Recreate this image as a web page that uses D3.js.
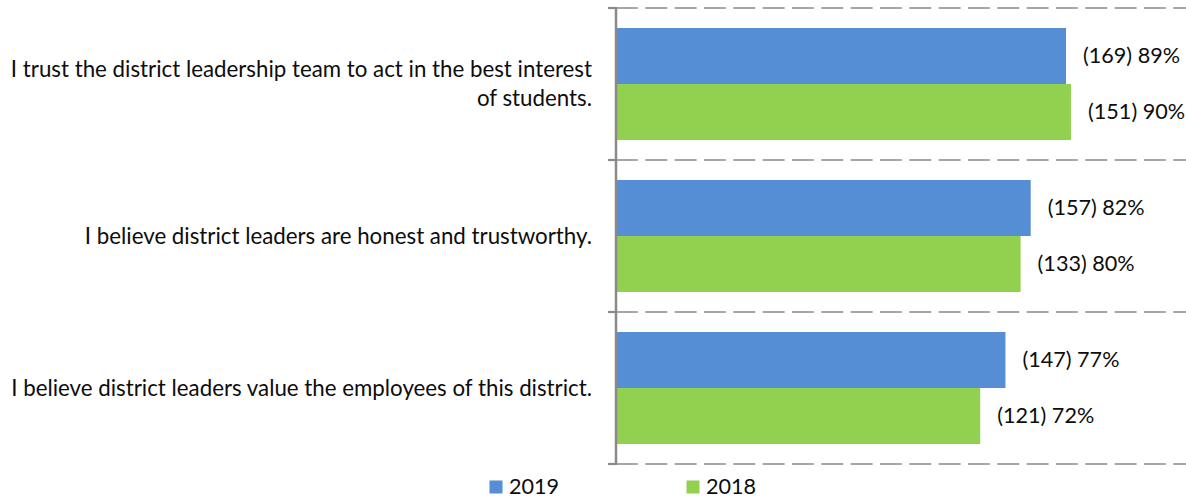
<!DOCTYPE html>
<html>
<head>
<meta charset="utf-8">
<script src="https://cdn.jsdelivr.net/npm/d3@7/dist/d3.min.js"></script>
<style>
  html, body { margin: 0; padding: 0; background: #fff; }
  svg { display: block; }
  text { font-family: Lato, "Open Sans", sans-serif; fill: #0d0d0d; }
</style>
</head>
<body>
<svg id="chart" width="1186" height="500"></svg>
<script>
// Survey statements (line breaks where the label wraps)
const categories = [
  "I trust the district leadership team to act in the best interest\nof students.",
  "I believe district leaders are honest and trustworthy.",
  "I believe district leaders value the employees of this district."
];
const seriesNames = ["2019", "2018"];
const colors = ["#558ED5", "#92D050"];
// Share agreeing, per series
const pct2019 = [0.89, 0.82, 0.77];
const pct2018 = [0.90, 0.80, 0.72];
// Respondent counts shown in the labels
const count2019 = [169, 157, 147];
const count2018 = [151, 133, 121];

const values = [pct2019, pct2018];
const counts = [count2019, count2018];

const W = 1186, H = 500;
const axisX = 616;
const plot = { left: 617, top: 8, bottom: 464, right: W };
const catFont = 22.3, numFont = 21.6;

const svg = d3.select("#chart");

const x = d3.scaleLinear().domain([0, 1]).range([plot.left, plot.left + 504.5]);
const y = d3.scaleBand().domain(d3.range(categories.length)).range([plot.top, plot.bottom]).paddingInner(0).paddingOuter(0);
const ySub = d3.scaleBand().domain(d3.range(seriesNames.length)).range([20, y.bandwidth() - 20]).padding(0);

// Dashed gridlines at category boundaries
const bounds = d3.range(categories.length + 1).map(i => i < categories.length ? y(i) : plot.bottom);
svg.append("g").selectAll("line").data(bounds).join("line")
  .attr("x1", axisX).attr("x2", plot.right)
  .attr("y1", d => d).attr("y2", d => d)
  .attr("stroke", "#a6a6a6").attr("stroke-width", 2.2)
  .attr("stroke-dasharray", "22,7.33");

// Bars
const rows = [];
categories.forEach((c, ci) => seriesNames.forEach((s, si) => {
  rows.push({ ci, si, v: values[si][ci], n: counts[si][ci] });
}));

const g = svg.append("g");
g.selectAll("rect").data(rows).join("rect")
  .attr("x", x(0))
  .attr("y", d => y(d.ci) + ySub(d.si))
  .attr("width", d => x(d.v) - x(0))
  .attr("height", ySub.bandwidth())
  .attr("fill", d => colors[d.si]);

// Value labels
g.selectAll("text.val").data(rows).join("text")
  .attr("class", "val")
  .attr("x", d => x(d.v) + 17)
  .attr("y", d => y(d.ci) + ySub(d.si) + ySub.bandwidth() / 2)
  .attr("dy", "0.34em")
  .attr("font-size", numFont)
  .text(d => `(${d.n}) ${Math.round(d.v * 100)}%`);

// Category axis
const axis = svg.append("g");
axis.append("line")
  .attr("x1", axisX).attr("x2", axisX)
  .attr("y1", plot.top - 1).attr("y2", plot.bottom + 1)
  .attr("stroke", "#8a8a8a").attr("stroke-width", 2.5);
axis.selectAll("line.tick").data(bounds).join("line")
  .attr("class", "tick")
  .attr("x1", 608).attr("x2", axisX)
  .attr("y1", d => d).attr("y2", d => d)
  .attr("stroke", "#8a8a8a").attr("stroke-width", 2.2);

const lineH = 29;
axis.selectAll("text.cat").data(categories).join("text")
  .attr("class", "cat")
  .attr("text-anchor", "end")
  .attr("font-size", catFont)
  .each(function (c, i) {
    const lines = c.split("\n");
    const cy = y(i) + y.bandwidth() / 2;
    const first = cy - (lines.length - 1) * lineH / 2;
    d3.select(this).selectAll("tspan").data(lines).join("tspan")
      .attr("x", 592)
      .attr("y", (l, k) => first + k * lineH)
      .attr("dy", "0.34em")
      .text(l => l);
  });

// Legend
const legendX = [489.5, 686.5];
const lg = svg.append("g").selectAll("g").data(seriesNames).join("g")
  .attr("transform", (d, i) => `translate(${legendX[i]},480.5)`);
lg.append("rect").attr("width", 13).attr("height", 13).attr("fill", (d, i) => colors[i]);
lg.append("text").attr("x", 19.5).attr("y", 6.5).attr("dy", "0.34em")
  .attr("font-size", numFont).text(d => d);
</script>
</body>
</html>
